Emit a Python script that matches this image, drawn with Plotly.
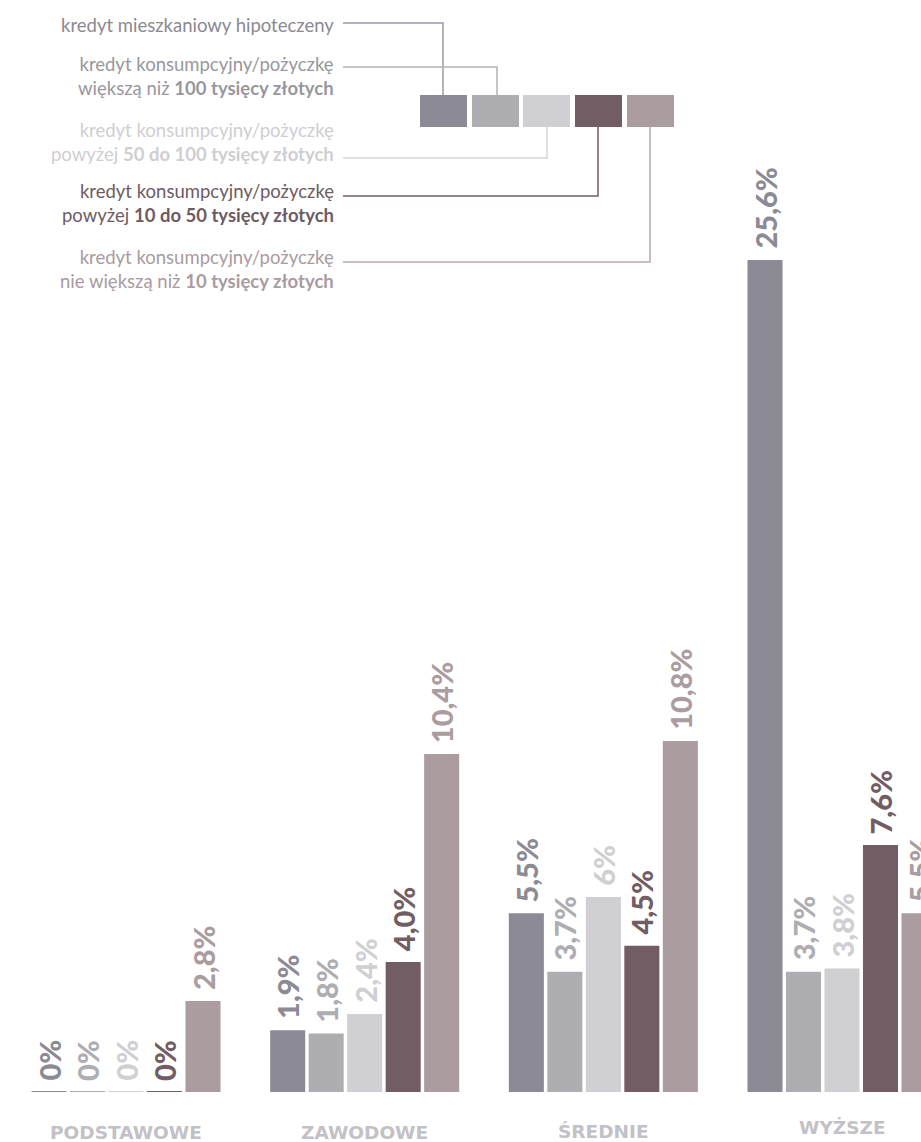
import plotly.graph_objects as go

# ---------------- data ----------------
categories = ["PODSTAWOWE", "ZAWODOWE", "ŚREDNIE", "WYŻSZE"]

hipoteczny = [0, 1.9, 5.5, 25.6]
powyzej_100k = [0, 1.8, 3.7, 3.7]
od_50_do_100k = [0, 2.4, 6, 3.8]
od_10_do_50k = [0, 4.0, 4.5, 7.6]
do_10k = [2.8, 10.4, 10.8, 5.5]

hipoteczny_txt = ["0%", "1,9%", "5,5%", "25,6%"]
powyzej_100k_txt = ["0%", "1,8%", "3,7%", "3,7%"]
od_50_do_100k_txt = ["0%", "2,4%", "6%", "3,8%"]
od_10_do_50k_txt = ["0%", "4,0%", "4,5%", "7,6%"]
do_10k_txt = ["2,8%", "10,4%", "10,8%", "5,5%"]

legend_labels = [
    "kredyt mieszkaniowy hipoteczeny",
    "kredyt konsumpcyjny/pożyczkę<br>większą niż <b>100 tysięcy złotych</b>",
    "kredyt konsumpcyjny/pożyczkę<br>powyżej <b>50 do 100 tysięcy złotych</b>",
    "kredyt konsumpcyjny/pożyczkę<br>powyżej <b>10 do 50 tysięcy złotych</b>",
    "kredyt konsumpcyjny/pożyczkę<br>nie większą niż <b>10 tysięcy złotych</b>",
]

# ---------------- style ----------------
W, H = 921, 1142
MB = 50                      # bottom margin (baseline at y=1092 px)
PH = H - MB                  # plot height in px
bar_colors = ["#8c8a94", "#aeadb2", "#d0cfd3", "#725d64", "#ab9ca0"]
legend_text_colors = ["#8b8991", "#98979d", "#cfced2", "#6f5b62", "#a99b9f"]
line_colors = ["#9c9aa2", "#b3b2b7", "#d6d5d8", "#725d64", "#b9abaf"]
cat_color = "#c2c1c6"

series = [hipoteczny, powyzej_100k, od_50_do_100k, od_10_do_50k, do_10k]
series_txt = [hipoteczny_txt, powyzej_100k_txt, od_50_do_100k_txt, od_10_do_50k_txt, do_10k_txt]

X0, X1 = -0.528, 3.331
px_per_cat = W / (X1 - X0)
bargap = 0.1935
slot_px = (1 - bargap) / 5 * px_per_cat


def py(p):
    return 1 - p / PH


def pxx(p):
    return p / W


fig = go.Figure()
for i, vals in enumerate(series):
    fig.add_bar(
        x=categories, y=vals,
        marker=dict(color=bar_colors[i],
                    line=dict(color=bar_colors[i], width=[2 if v == 0 else 0 for v in vals])),
        showlegend=False, hoverinfo="skip",
    )

annotations = []
for i, (vals, txts) in enumerate(zip(series, series_txt)):
    for j, (v, t) in enumerate(zip(vals, txts)):
        annotations.append(dict(
            x=categories[j], y=v, xref="x", yref="y", text=t, textangle=-90,
            xanchor="center", yanchor="bottom", yshift=9, xshift=(i - 2) * slot_px,
            showarrow=False, font=dict(family="Lato", size=29, color=bar_colors[i], weight=900),
        ))

cat_y = [1132, 1132, 1131, 1127]
for j, c in enumerate(categories):
    annotations.append(dict(
        x=c, y=py(cat_y[j]), xref="x", yref="paper", text=c, showarrow=False,
        xanchor="center", yanchor="middle",
        font=dict(family="DejaVu Sans", size=18.5, color=cat_color, weight="bold"),
    ))

# legend texts
legend_text_y = [25, 76, 142, 203, 269]
for k, lab in enumerate(legend_labels):
    annotations.append(dict(
        x=pxx(336), y=py(legend_text_y[k]), xref="paper", yref="paper", text=lab,
        showarrow=False, xanchor="right", yanchor="middle", align="right",
        font=dict(family="Lato", size=18.5, color=legend_text_colors[k]),
    ))

shapes = []
sq_x = [420, 472, 523, 575, 627]
sq_w, sq_top, sq_bot = 47, 95, 127
for k in range(5):
    shapes.append(dict(type="rect", xref="paper", yref="paper",
                       x0=pxx(sq_x[k]), x1=pxx(sq_x[k] + sq_w), y0=py(sq_bot), y1=py(sq_top),
                       fillcolor=bar_colors[k], line=dict(width=0)))

conn_y = [23, 67, 158, 196, 262]
conn_x = [443, 497, 547, 598, 650]
for k in range(5):
    end_y = sq_top if conn_y[k] < sq_top else sq_bot
    path = f"M {pxx(343)} {py(conn_y[k])} L {pxx(conn_x[k])} {py(conn_y[k])} L {pxx(conn_x[k])} {py(end_y)}"
    shapes.append(dict(type="path", xref="paper", yref="paper", path=path,
                       line=dict(color=line_colors[k], width=1.5)))

fig.update_layout(
    width=W, height=H,
    margin=dict(l=0, r=0, t=0, b=MB),
    paper_bgcolor="white", plot_bgcolor="white",
    barmode="group", bargap=bargap, bargroupgap=0.09,
    xaxis=dict(range=[X0, X1], showticklabels=False, showgrid=False, zeroline=False,
               ticks="", showline=False, fixedrange=True),
    yaxis=dict(range=[0, PH / 32.5], visible=False, showgrid=False, zeroline=False),
    annotations=annotations, shapes=shapes,
    showlegend=False,
)

fig.write_html(
    "out.html",
    config={"displayModeBar": False},
    post_script="document.body.style.margin='0';document.body.style.overflow='hidden';",
)
